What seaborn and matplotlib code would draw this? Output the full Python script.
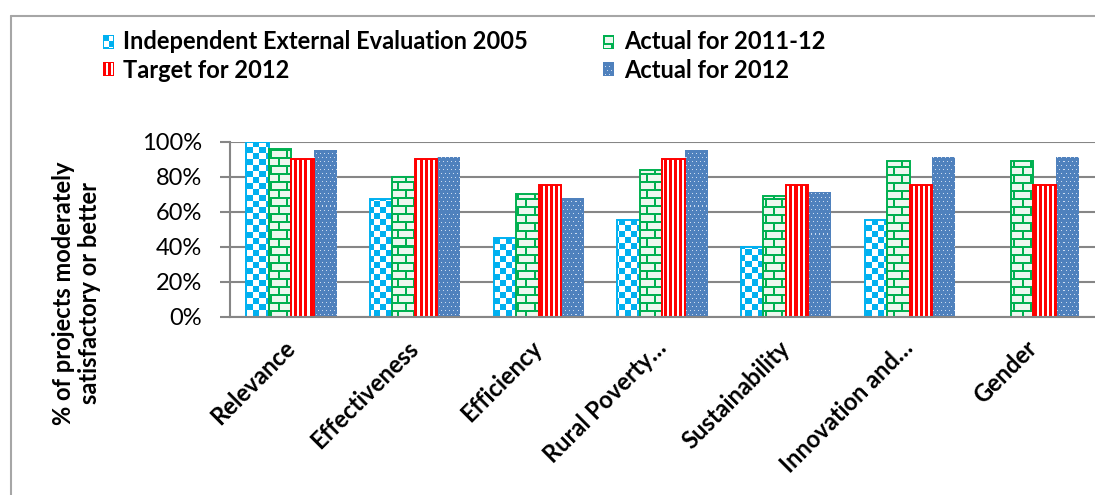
import numpy as np
import pandas as pd
import matplotlib
matplotlib.use("Agg")
import matplotlib.pyplot as plt
from matplotlib.lines import Line2D
from matplotlib.colors import to_hex, to_rgb
import seaborn as sns

# ---- data -------------------------------------------------------------
categories = ["Relevance", "Effectiveness", "Efficiency", "Rural Poverty…",
              "Sustainability", "Innovation and…", "Gender"]
series_names = ["Independent External Evaluation 2005", "Actual for 2011-12",
                "Target for 2012", "Actual for 2012"]
iee_2005 = [100, 67, 45, 55, 40, 55, np.nan]
actual_2011_12 = [96, 80, 70, 84, 69, 89, 89]
target_2012 = [90, 90, 75, 90, 75, 75, 75]
actual_2012 = [95, 91, 68, 95, 71, 91, 91]
y_ticks = [0, 20, 40, 60, 80, 100]

# ---- styling ----------------------------------------------------------
W_PX, H_PX, DPI = 1095, 495, 100
base_colors = {
    series_names[0]: "#00b0f0",
    series_names[1]: "#00b050",
    series_names[2]: "#ff0000",
    series_names[3]: "#4f81bd",
}
pattern_kind = {
    series_names[0]: "checker",
    series_names[1]: "brick",
    series_names[2]: "stripes",
    series_names[3]: "dots",
}
GRID = "#868686"

sns.set_theme(style="white")
plt.rcParams["font.family"] = ["Lato", "DejaVu Sans"]
FS = 17


def texture(kind, h, w, color):
    """RGB fill pattern in screen pixels."""
    yy, xx = np.mgrid[0:h, 0:w]
    c = np.array(to_rgb(color))
    white = np.array([1.0, 1.0, 1.0])
    img = np.empty((h, w, 3))
    if kind == "checker":
        mask = ((xx // 6 + yy // 6) % 2) == 0
        img[:] = white
        img[mask] = c
    elif kind == "brick":
        row = yy // 8
        mortar_h = (yy % 8) < 2
        mortar_v = ((xx + (row % 2) * 8) % 16) < 2
        mask = mortar_h | mortar_v
        img[:] = np.array([0.93, 0.97, 0.94])
        img[mask] = c
    elif kind == "stripes":
        mask = (xx % 5) < 3
        img[:] = white
        img[mask] = c
    else:  # dots
        img[:] = c
        shift = ((yy // 4) % 2) * 2
        mask = ((yy % 4) == 0) & (((xx + shift) % 4) == 0)
        img[mask] = np.array([0.80, 0.86, 0.94])
    return img


df = pd.DataFrame({
    "category": np.repeat(categories, len(series_names)),
    "series": series_names * len(categories),
    "value": np.ravel(np.column_stack([iee_2005, actual_2011_12,
                                       target_2012, actual_2012])),
})

fig = plt.figure(figsize=(W_PX / DPI, H_PX / DPI), dpi=DPI)
ax_left, ax_right = 229.5, 1095.0
ax_top, ax_bottom = 141.7, 316.7
ax = fig.add_axes([ax_left / W_PX, 1 - ax_bottom / H_PX,
                   (ax_right - ax_left) / W_PX, (ax_bottom - ax_top) / H_PX])

sns.barplot(data=df, x="category", y="value", hue="series",
            order=categories, hue_order=series_names,
            palette=base_colors, width=0.728, gap=0, legend=False,
            saturation=1, ax=ax)

ax.set_xlim(-0.5, len(categories) - 0.5)
ax.set_ylim(0, 100)

# textured fills clipped to each bar
bbox = ax.get_window_extent()
tw, th = int(round(bbox.width)), int(round(bbox.height))
textures = {s: texture(pattern_kind[s], th, tw, base_colors[s])
            for s in series_names}
color_to_series = {to_hex(v): k for k, v in base_colors.items()}

for patch in list(ax.patches):
    s = color_to_series.get(to_hex(patch.get_facecolor()))
    if s is None or not np.isfinite(patch.get_height()) or patch.get_height() == 0:
        continue
    im = ax.imshow(textures[s], extent=(-0.5, len(categories) - 0.5, 0, 100),
                   origin="upper", aspect="auto", interpolation="nearest",
                   zorder=2)
    im.set_clip_path(patch)
    patch.set_facecolor("none")
    patch.set_edgecolor(base_colors[s] if s != series_names[3] else "none")
    patch.set_linewidth(1.4)
    patch.set_zorder(3)

ax.set_xlim(-0.5, len(categories) - 0.5)
ax.set_ylim(0, 100)

# axes, grid, ticks
ax.set_axisbelow(True)
ax.yaxis.grid(True, color=GRID, linewidth=1.5)
ax.xaxis.grid(False)
for side in ("top", "right"):
    ax.spines[side].set_visible(False)
for side in ("left", "bottom"):
    ax.spines[side].set_color(GRID)
    ax.spines[side].set_linewidth(1.5)
    ax.spines[side].set_zorder(5)

ax.set_yticks(y_ticks)
ax.set_yticklabels([f"{v}%" for v in y_ticks], fontsize=FS, color="black")
ax.tick_params(axis="y", left=True, length=7.2, width=1.5, color=GRID, pad=12.5)

ax.set_xticks(range(len(categories)))
ax.set_xticklabels(categories, fontsize=FS, fontweight="bold", color="black",
                   rotation=45, ha="right", va="center", rotation_mode="anchor")
ax.tick_params(axis="x", bottom=False, length=0, pad=20)
ax.set_xlabel("")
ax.set_ylabel("")

# y-axis title
fig.text(76.5 / W_PX, 1 - 293 / H_PX,
         "% of projects moderately\nsatisfactory or better",
         rotation=90, ha="center", va="center", multialignment="center",
         fontsize=FS, fontweight="bold", color="black")

# legend: swatches + labels
legend_slots = [(103, 35, 123, 49), (603, 35, 624, 49),
                (103, 62, 123, 78), (603, 62, 624, 78)]
legend_order = [series_names[0], series_names[1], series_names[2], series_names[3]]
for s, (mx, my, tx, ty) in zip(legend_order, legend_slots):
    sw = texture(pattern_kind[s], 14, 11, base_colors[s])
    edge = np.array(to_rgb(base_colors[s]))
    sw[0, :] = edge
    sw[-1, :] = edge
    sw[:, 0] = edge
    sw[:, -1] = edge
    fig.figimage(sw, xo=mx, yo=H_PX - my - 14, origin="upper", zorder=5)
    fig.text(tx / W_PX, 1 - ty / H_PX, s, ha="left", va="baseline",
             fontsize=FS, fontweight="bold", color="black")

# chart frame
frame_kw = dict(transform=fig.transFigure, color="#a6a6a6", linewidth=1.5)
fig.add_artist(Line2D([11 / W_PX, 11 / W_PX], [0, 1 - 16 / H_PX], **frame_kw))
fig.add_artist(Line2D([11 / W_PX, 1], [1 - 16 / H_PX, 1 - 16 / H_PX], **frame_kw))

fig.savefig("out.png", dpi=DPI, facecolor="white")
